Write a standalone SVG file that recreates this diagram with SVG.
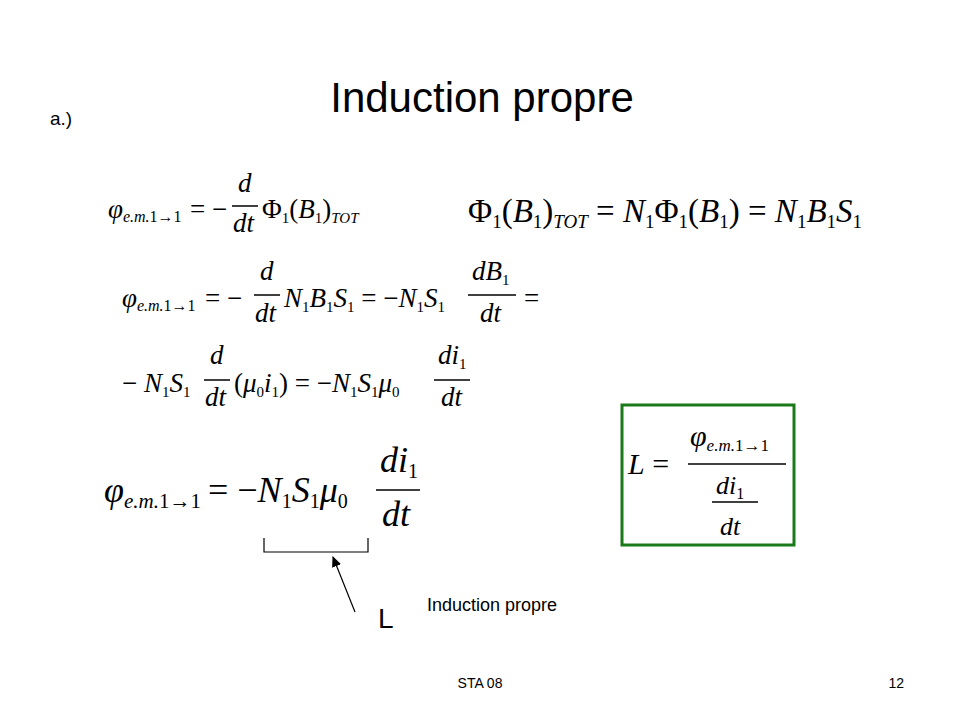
<svg xmlns="http://www.w3.org/2000/svg" width="960" height="720" viewBox="0 0 960 720">
<style>
.s{font-family:"Liberation Sans",Arial,sans-serif;fill:#000}
.m{font-family:"Liberation Serif","Times New Roman",serif;fill:#000}
.i{font-style:italic}
.fl{stroke:#000;stroke-width:1.5}
</style>
<defs><marker id="ah" markerWidth="10" markerHeight="10" refX="8" refY="5" orient="auto"><path d="M0,1 L9,5 L0,9 z" fill="#000"/></marker></defs>
<rect width="960" height="720" fill="#fff"/>
<text class="s" x="482" y="112" font-size="42" text-anchor="middle">Induction propre</text>
<text class="s" x="50" y="125" font-size="19">a.)</text>

<g id="eq1" class="m" font-size="27">
<text x="108" y="218"><tspan class="i">φ</tspan><tspan class="i" font-size="16" dy="4">e.m.</tspan><tspan font-size="16">1→1</tspan></text>
<text x="190" y="218">= −</text>
<text class="i" x="238" y="192">d</text><line class="fl" x1="232" y1="206" x2="258" y2="206"/><text class="i" x="233" y="232">dt</text>
<text x="262" y="218">Φ<tspan font-size="15" dy="5">1</tspan><tspan dy="-5">(</tspan><tspan class="i">B</tspan><tspan font-size="15" dy="5">1</tspan><tspan dy="-5">)</tspan><tspan class="i" font-size="15" dy="5">TOT</tspan></text>
</g>
<g id="eq2" class="m" font-size="33">
<text x="468" y="222">Φ<tspan font-size="19" dy="6">1</tspan><tspan dy="-6">(</tspan><tspan class="i">B</tspan><tspan font-size="19" dy="6">1</tspan><tspan dy="-6">)</tspan><tspan class="i" font-size="19" dy="6">TOT</tspan><tspan dy="-6"> = </tspan><tspan class="i">N</tspan><tspan font-size="19" dy="6">1</tspan><tspan dy="-6">Φ</tspan><tspan font-size="19" dy="6">1</tspan><tspan dy="-6">(</tspan><tspan class="i">B</tspan><tspan font-size="19" dy="6">1</tspan><tspan dy="-6">) = </tspan><tspan class="i">N</tspan><tspan font-size="19" dy="6">1</tspan><tspan class="i" dy="-6">B</tspan><tspan font-size="19" dy="6">1</tspan><tspan class="i" dy="-6">S</tspan><tspan font-size="19" dy="6">1</tspan></text>
</g>
<g id="eq3" class="m" font-size="27">
<text x="122" y="307"><tspan class="i">φ</tspan><tspan class="i" font-size="16" dy="4">e.m.</tspan><tspan font-size="16">1→1</tspan></text>
<text x="205" y="307">= −</text>
<text class="i" x="260" y="280">d</text><line class="fl" x1="254" y1="295" x2="280" y2="295"/><text class="i" x="255" y="322">dt</text>
<text x="284" y="307"><tspan class="i">N</tspan><tspan font-size="15" dy="5">1</tspan><tspan class="i" dy="-5">B</tspan><tspan font-size="15" dy="5">1</tspan><tspan class="i" dy="-5">S</tspan><tspan font-size="15" dy="5">1</tspan><tspan dy="-5"> = −</tspan><tspan class="i">N</tspan><tspan font-size="15" dy="5">1</tspan><tspan class="i" dy="-5">S</tspan><tspan font-size="15" dy="5">1</tspan></text>
<text class="i" x="472" y="280">dB<tspan font-size="15" font-style="normal" dy="5">1</tspan></text><line class="fl" x1="468" y1="295" x2="516" y2="295"/><text class="i" x="480" y="322">dt</text>
<text x="524" y="307">=</text>
</g>
<g id="eq4" class="m" font-size="27">
<text x="122" y="392">− <tspan class="i">N</tspan><tspan font-size="15" dy="5">1</tspan><tspan class="i" dy="-5">S</tspan><tspan font-size="15" dy="5">1</tspan></text>
<text class="i" x="210" y="364">d</text><line class="fl" x1="204" y1="380" x2="230" y2="380"/><text class="i" x="205" y="406">dt</text>
<text x="234" y="392">(<tspan class="i">μ</tspan><tspan font-size="15" dy="5">0</tspan><tspan class="i" dy="-5">i</tspan><tspan font-size="15" dy="5">1</tspan><tspan dy="-5">) = −</tspan><tspan class="i">N</tspan><tspan font-size="15" dy="5">1</tspan><tspan class="i" dy="-5">S</tspan><tspan font-size="15" dy="5">1</tspan><tspan class="i" dy="-5">μ</tspan><tspan font-size="15" dy="5">0</tspan></text>
<text class="i" x="438" y="364">di<tspan font-size="15" font-style="normal" dy="5">1</tspan></text><line class="fl" x1="434" y1="380" x2="470" y2="380"/><text class="i" x="441" y="406">dt</text>
</g>
<g id="eq5" class="m" font-size="36">
<text x="104" y="502"><tspan class="i">φ</tspan><tspan class="i" font-size="21" dy="6">e.m.</tspan><tspan font-size="21">1→1</tspan></text>
<text x="208" y="502">= −<tspan class="i">N</tspan><tspan font-size="20" dy="6">1</tspan><tspan class="i" dy="-6">S</tspan><tspan font-size="20" dy="6">1</tspan><tspan class="i" dy="-6">μ</tspan><tspan font-size="20" dy="6">0</tspan></text>
<text class="i" x="380" y="472">di<tspan font-size="20" font-style="normal" dy="6">1</tspan></text><line class="fl" x1="376" y1="490" x2="420" y2="490" stroke-width="2"/><text class="i" x="382" y="526">dt</text>
</g>
<g id="connectors" fill="none" stroke="#000" stroke-width="1.2">
<path d="M264,538 V552 H368 V538"/>
<line x1="355" y1="612" x2="333" y2="557" marker-end="url(#ah)"/>
</g>
<g id="box">
<rect x="622" y="405" width="172" height="140" fill="none" stroke="#1a7a1a" stroke-width="3"/>
<g class="m" font-size="30">
<text class="i" x="628" y="474">L<tspan font-style="normal"> =</tspan></text>
<text x="690" y="446"><tspan class="i">φ</tspan><tspan class="i" font-size="17" dy="5">e.m.</tspan><tspan font-size="17">1→1</tspan></text>
<line class="fl" x1="688" y1="464" x2="786" y2="464" stroke-width="2"/>
<text class="i" x="716" y="494" font-size="26">di<tspan font-size="16" font-style="normal" dy="5">1</tspan></text>
<line class="fl" x1="712" y1="502" x2="758" y2="502"/>
<text class="i" x="720" y="535" font-size="26">dt</text>
</g>
</g>
<text class="s" x="378" y="628" font-size="28">L</text>
<text class="s" x="427" y="611" font-size="18">Induction propre</text>
<text class="s" x="480" y="688" font-size="14" text-anchor="middle">STA 08</text>
<text class="s" x="904" y="688" font-size="14" text-anchor="end">12</text>
</svg>
